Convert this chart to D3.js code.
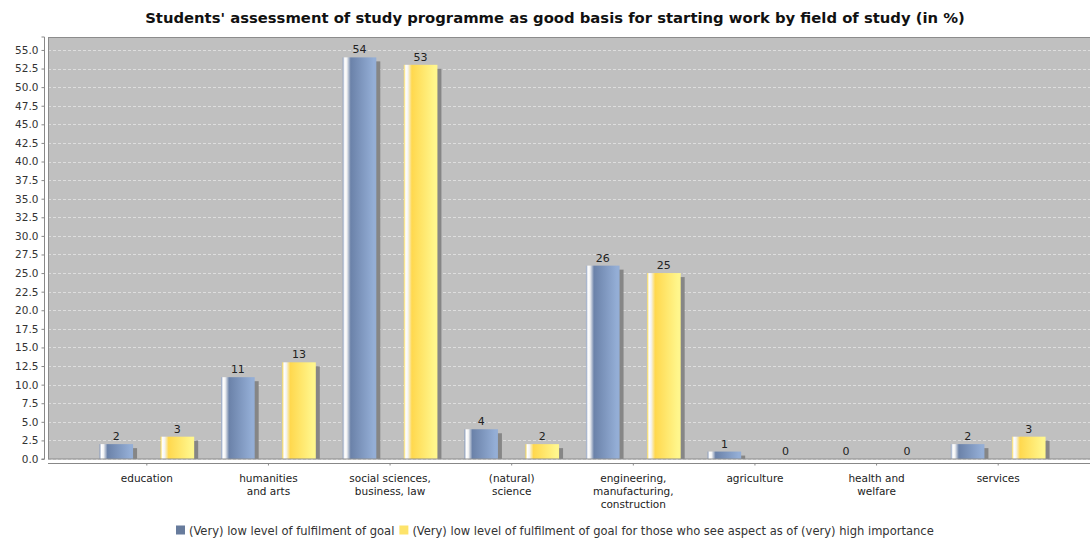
<!DOCTYPE html>
<html><head><meta charset="utf-8">
<script src="https://cdn.jsdelivr.net/npm/d3@7"></script>
<style>
body{margin:0;background:#fff;}
svg{display:block;font-family:"DejaVu Sans",sans-serif;}
</style></head>
<body><svg id="chart" width="1090" height="541"></svg>
<script>
const categories = ["education","humanities\nand arts","social sciences,\nbusiness, law","(natural)\nscience","engineering,\nmanufacturing,\nconstruction","agriculture","health and\nwelfare","services"];
const seriesNames = ["(Very) low level of fulfilment of goal","(Very) low level of fulfilment of goal for those who see aspect as of (very) high importance"];
const lowFulfilment = [2, 11, 54, 4, 26, 1, 0, 2];
const lowFulfilmentHighImportance = [3, 13, 53, 2, 25, 0, 0, 3];
const yTicks = [0,2.5,5,7.5,10,12.5,15,17.5,20,22.5,25,27.5,30,32.5,35,37.5,40,42.5,45,47.5,50,52.5,55];
const title = "Students' assessment of study programme as good basis for starting work by field of study (in %)";

const svg = d3.select("#chart");
const plot = {left:48, right:1090, top:37, bottom:459};

const defs = svg.append("defs");
function grad(id, edge, base, light){
  const g = defs.append("linearGradient").attr("id",id).attr("x1","0%").attr("x2","100%").attr("y1","0%").attr("y2","0%");
  [[0,edge],[6,"#ffffff"],[12,"#f4f4f4"],[24,base],[92,light],[100,light]].forEach(([o,c])=>g.append("stop").attr("offset",o+"%").attr("stop-color",c));
}
grad("gBlue","#8a9cbc","#6b82a9","#94aed6");
grad("gYellow","#f5d85a","#ffd84e","#fff68c");

const series = [
  {name: seriesNames[0], values: lowFulfilment, fill:"url(#gBlue)", legend:"#677b9c"},
  {name: seriesNames[1], values: lowFulfilmentHighImportance, fill:"url(#gYellow)", legend:"#fde36a"}
];

const x = d3.scaleBand().domain(categories).range([86, 1059]).paddingInner(0).paddingOuter(0);
const xs = d3.scaleBand().domain([0,1]).range([0, x.bandwidth()]).paddingInner(0.45).paddingOuter(0.22);
const y = d3.scaleLinear().domain([0, 56.74]).range([plot.bottom, plot.top]);

svg.append("rect").attr("x",plot.left).attr("y",plot.top).attr("width",plot.right-plot.left).attr("height",plot.bottom-plot.top).attr("fill","#c0c0c0");

svg.append("g").selectAll("line").data(yTicks).join("line")
  .attr("x1",plot.left).attr("x2",plot.right)
  .attr("y1",d=>Math.round(y(d))+0.5).attr("y2",d=>Math.round(y(d))+0.5)
  .attr("stroke","#dedede").attr("stroke-width",1).attr("stroke-dasharray","3,2");

const clipId = "plotclip";
defs.append("clipPath").attr("id",clipId).append("rect").attr("x",plot.left).attr("y",plot.top).attr("width",plot.right-plot.left).attr("height",plot.bottom-plot.top);
const barsG = svg.append("g").attr("clip-path","url(#"+clipId+")");
series.forEach((s,si)=>{
  const g = barsG.append("g");
  s.values.forEach((v,i)=>{
    if(v<=0) return;
    const bx = x(categories[i]) + xs(si);
    const bw = xs.bandwidth();
    g.append("rect").attr("x",bx+4).attr("y",y(v)+4).attr("width",bw).attr("height",plot.bottom-y(v)).attr("fill","#868686");
    g.append("rect").attr("x",bx).attr("y",y(v)).attr("width",bw).attr("height",plot.bottom-y(v)).attr("fill",s.fill);
  });
});
series.forEach((s,si)=>{
  svg.append("g").selectAll("text").data(s.values).join("text")
    .attr("x",(d,i)=>x(categories[i]) + xs(si) + xs.bandwidth()/2)
    .attr("y",d=>y(d)-4)
    .attr("text-anchor","middle").attr("font-size",11).attr("fill","#222")
    .text(d=>d);
});

svg.append("rect").attr("x",plot.left+0.5).attr("y",plot.top+0.5).attr("width",plot.right-plot.left).attr("height",plot.bottom-plot.top-0.5)
  .attr("fill","none").attr("stroke","#8c8c8c");

const yAxis = d3.axisLeft(y).tickValues(yTicks).tickFormat(d3.format(".1f")).tickSize(3).tickPadding(3);
const ya = svg.append("g").attr("transform","translate(44.5,0)").call(yAxis);
ya.select(".domain").attr("stroke","#888").attr("d","M-3,"+y(0)+"H0V"+plot.top+"H-3");
ya.selectAll(".tick line").attr("stroke","#888");
ya.selectAll("text").attr("font-size",10.5).attr("fill","#333").attr("font-family","DejaVu Sans");

const xa = svg.append("g").attr("transform","translate(0,463.5)").call(d3.axisBottom(x).tickSize(2).tickFormat(""));
xa.select(".domain").attr("stroke","#888").attr("d","M"+plot.left+",0H"+plot.right);
xa.selectAll(".tick line").attr("stroke","#888");
const xl = svg.append("g");
categories.forEach(c=>{
  const t = xl.append("text").attr("x",x(c)+x.bandwidth()/2).attr("y",482).attr("text-anchor","middle").attr("font-size",10.5).attr("fill","#222");
  c.split("\n").forEach((line,j)=>t.append("tspan").attr("x",x(c)+x.bandwidth()/2).attr("dy",j?13:0).text(line));
});

svg.append("text").attr("x",555).attr("y",23).attr("text-anchor","middle").attr("font-size",14.8).attr("font-weight","bold").attr("fill","#111").text(title);

const lg = svg.append("g").attr("transform","translate(176,534.5)");
let lx = 0;
series.forEach(s=>{
  lg.append("rect").attr("x",lx).attr("y",-9).attr("width",9).attr("height",9).attr("fill",s.legend);
  const t = lg.append("text").attr("x",lx+13).attr("y",0).attr("font-size",12.8).attr("font-family","'Liberation Sans Narrow','DejaVu Sans Condensed',sans-serif").attr("fill","#333").text(s.name);
  lx += 13 + t.node().getComputedTextLength() + 5;
});
</script></body></html>
